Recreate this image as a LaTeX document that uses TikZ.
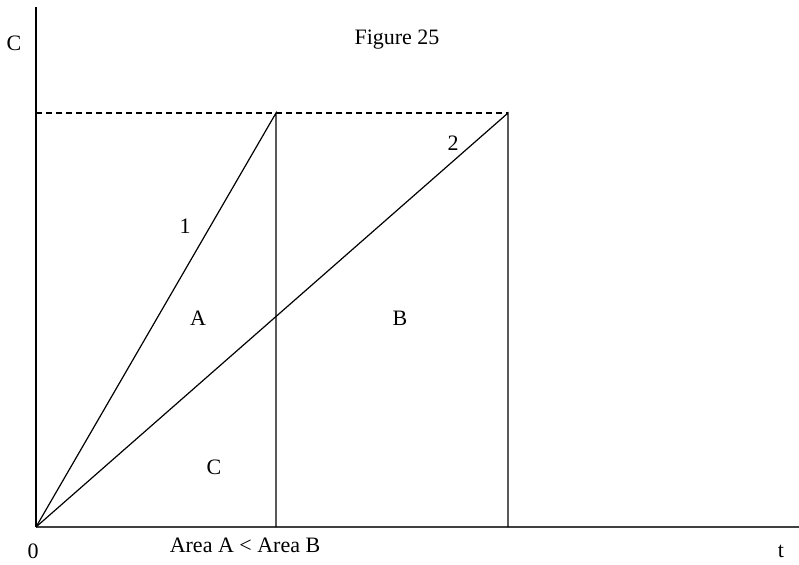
\documentclass[tikz,border=0pt]{standalone}
\usepackage{fontspec}
\setmainfont{Liberation Serif}
\usepackage{tikz}
\usetikzlibrary{calc}

\begin{document}
\begin{tikzpicture}[x=1pt,y=-1pt,
    lbl/.style={inner sep=0pt,font=\fontsize{22}{24}\selectfont},
    curve/.style={line width=1.2pt,black},
    guide/.style={line width=1.1pt,dashed,dash pattern=on 6pt off 4pt}]
  \useasboundingbox (0,0) rectangle (799,564);

  \coordinate (O) at (36,527);
  \coordinate (Ytop) at (36,7);
  \coordinate (Xend) at (799,527);
  \coordinate (P1) at (276,113);
  \coordinate (P2) at (508,113);
  \coordinate (Q1) at (276,527);
  \coordinate (Q2) at (508,527);
  \coordinate (H) at (36,113);

  % Axes
  \draw[line width=1.5pt] (O) -- (Ytop);
  \draw[line width=2.4pt,black!75] (O) -- (Xend);

  % Level reached by both lines
  \draw[guide] (H) -- (P2);

  % Lines 1 and 2 with their verticals
  \draw[curve] (O) -- (P1) -- (Q1);
  \draw[curve] (O) -- (P2) -- (Q2);

  % Labels
  \node[lbl] (cy) at (14,43) {C};
  \node[lbl] (title) at (397,40) {Figure 25};
  \node[lbl] (one) at (185,226) {1};
  \node[lbl] (two) at (453,143) {2};
  \node[lbl] (areaA) at (198,318) {A};
  \node[lbl] (areaB) at (400,318) {B};
  \node[lbl] (areaC) at (214,467) {C};
  \node[lbl] (zero) at (33,551) {0};
  \node[lbl] (cmp) at (245,545) {Area A < Area B};
  \node[lbl] (tx) at (781,551) {t};
\end{tikzpicture}
\end{document}
